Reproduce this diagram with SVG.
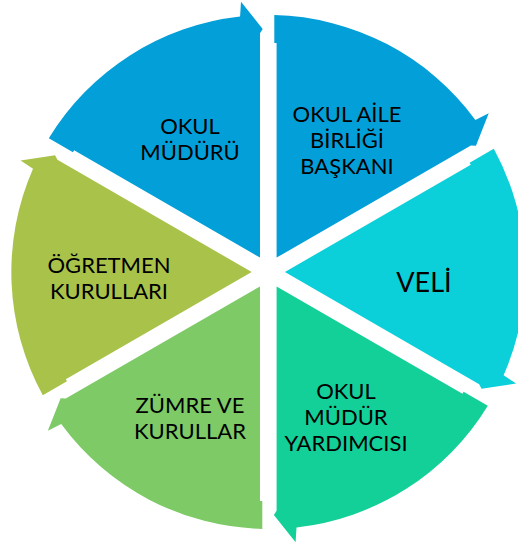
<svg xmlns="http://www.w3.org/2000/svg" width="518" height="552" viewBox="0 0 518 552">
  <defs>
    <path id="seg" d="M -8.3,-14.38 L -194.2,-121.7 L -195.3,-119.7 L -219.5,-133.65 A 257 257 0 0 1 -28.2,-255.4 L -27.3,-270.3 L -5.6,-243 L -8.3,-238.7 Z"/>
  </defs>
  <style>
    .lbl { font-family: Lato, "Liberation Sans", Arial, sans-serif; font-size: 22px; fill: #000; text-anchor: middle; }
    .big { font-size: 27px; }
  </style>
  <rect width="518" height="552" fill="#ffffff"/>
  <g id="connectors"></g>
  <g id="node-okul-muduru">
    <use href="#seg" transform="translate(268.3,272) rotate(0)" fill="#039FD9"/>
    <text class="lbl" x="190" y="134">OKUL</text>
    <text class="lbl" x="190" y="160">MÜDÜRÜ</text>
  </g>
  <g id="node-okul-aile">
    <use href="#seg" transform="translate(268.3,272) rotate(60)" fill="#039FD9"/>
    <text class="lbl" x="347" y="122">OKUL AİLE</text>
    <text class="lbl" x="347" y="148">BİRLİĞİ</text>
    <text class="lbl" x="347" y="174">BAŞKANI</text>
  </g>
  <g id="node-veli">
    <use href="#seg" transform="translate(268.3,272) rotate(120)" fill="#0BCFD9"/>
    <text class="lbl big" x="424" y="292">VELİ</text>
  </g>
  <g id="node-mudur-yardimcisi">
    <use href="#seg" transform="translate(268.3,272) rotate(180)" fill="#13CF98"/>
    <text class="lbl" x="346" y="399">OKUL</text>
    <text class="lbl" x="346" y="425">MÜDÜR</text>
    <text class="lbl" x="346" y="451">YARDIMCISI</text>
  </g>
  <g id="node-zumre">
    <use href="#seg" transform="translate(268.3,272) rotate(240)" fill="#7DCA66"/>
    <text class="lbl" x="190" y="413">ZÜMRE VE</text>
    <text class="lbl" x="190" y="439">KURULLAR</text>
  </g>
  <g id="node-ogretmen">
    <use href="#seg" transform="translate(268.3,272) rotate(300)" fill="#A9C24A"/>
    <text class="lbl" x="109" y="273">ÖĞRETMEN</text>
    <text class="lbl" x="109" y="299">KURULLARI</text>
  </g>
</svg>
